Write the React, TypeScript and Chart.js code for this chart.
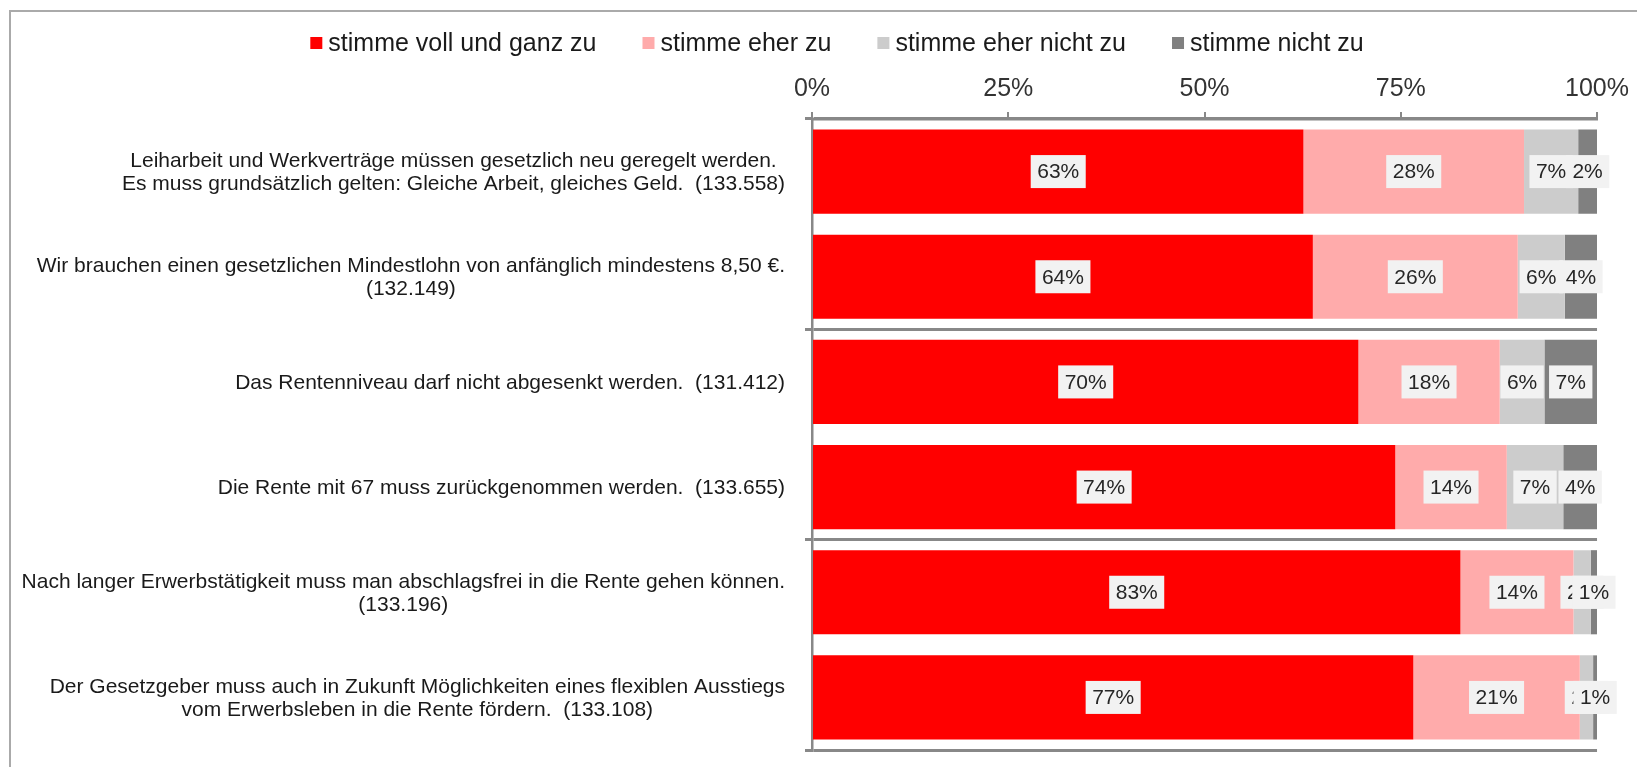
import React, { useEffect, useRef } from 'react';
import { Chart, registerables } from 'chart.js';

Chart.register(...registerables);

const FONT = '"Liberation Sans", Arial, sans-serif';

const categories: string[][] = [
  ['Leiharbeit und Werkverträge müssen gesetzlich neu geregelt werden.', 'Es muss grundsätzlich gelten: Gleiche Arbeit, gleiches Geld.  (133.558)'],
  ['Wir brauchen einen gesetzlichen Mindestlohn von anfänglich mindestens 8,50 €.', '(132.149)'],
  ['Das Rentenniveau darf nicht abgesenkt werden.  (131.412)'],
  ['Die Rente mit 67 muss zurückgenommen werden.  (133.655)'],
  ['Nach langer Erwerbstätigkeit muss man abschlagsfrei in die Rente gehen können.', '(133.196)'],
  ['Der Gesetzgeber muss auch in Zukunft Möglichkeiten eines flexiblen Ausstiegs', 'vom Erwerbsleben in die Rente fördern.  (133.108)'],
];

const seriesNames = ['stimme voll und ganz zu', 'stimme eher zu', 'stimme eher nicht zu', 'stimme nicht zu'];
const vollUndGanz = [62.6, 63.8, 69.6, 74.3, 82.6, 76.6];
const eherZu = [28.1, 26.1, 18.0, 14.2, 14.4, 21.2];
const eherNichtZu = [6.9, 6.0, 5.7, 7.2, 2.2, 1.7];
const nichtZu = [2.4, 4.1, 6.7, 4.3, 0.8, 0.5];
const seriesColors = ['#ff0000', '#ffabab', '#cccccc', '#808080'];
const xTickValues = [0, 25, 50, 75, 100];

const legendPlugin = {
  id: 'customLegend',
  afterDraw(chart: any) {
    const ctx = chart.ctx;
    ctx.save();
    ctx.font = `25px ${FONT}`;
    const box = 12;
    const gapText = 6;
    const gapItem = 46;
    const ds = chart.data.datasets;
    const widths = ds.map((d: any) => ctx.measureText(d.label).width);
    const total = widths.reduce((a: number, w: number) => a + box + gapText + w, 0) + gapItem * (ds.length - 1);
    let x = 837 - total / 2;
    const y = 43;
    ds.forEach((d: any, i: number) => {
      ctx.fillStyle = d.backgroundColor;
      ctx.fillRect(x, y - 6, box, box);
      x += box + gapText;
      ctx.fillStyle = '#1a1a1a';
      ctx.textAlign = 'left';
      ctx.textBaseline = 'middle';
      ctx.fillText(d.label, x, y + 1);
      x += widths[i] + gapItem;
    });
    ctx.restore();
  },
};

const categoryLabelPlugin = {
  id: 'categoryLabels',
  afterDraw(chart: any) {
    const ctx = chart.ctx;
    const yScale = chart.scales.y;
    ctx.save();
    ctx.font = `21px ${FONT}`;
    ctx.fillStyle = '#1a1a1a';
    ctx.textAlign = 'center';
    ctx.textBaseline = 'middle';
    const rightEdge = yScale.right - 27;
    const lineH = 23;
    categories.forEach((lines, j) => {
      const yc = yScale.getPixelForValue(j) + 1;
      const maxW = Math.max(...lines.map((l) => ctx.measureText(l).width));
      const cx = rightEdge - maxW / 2;
      lines.forEach((l, k) => {
        ctx.fillText(l, cx, yc + (k - (lines.length - 1) / 2) * lineH);
      });
    });
    ctx.restore();
  },
};

const dataLabelPlugin = {
  id: 'segmentLabels',
  afterDatasetsDraw(chart: any) {
    const ctx = chart.ctx;
    ctx.save();
    ctx.font = `21px ${FONT}`;
    ctx.textAlign = 'center';
    ctx.textBaseline = 'middle';
    chart.data.datasets.forEach((d: any, i: number) => {
      const meta = chart.getDatasetMeta(i);
      meta.data.forEach((bar: any, j: number) => {
        const text = Math.round(d.data[j]) + '%';
        const cx = (bar.x + bar.base) / 2;
        const cy = bar.y;
        const w = ctx.measureText(text).width + 13;
        const h = 33;
        ctx.fillStyle = '#f2f2f2';
        ctx.fillRect(cx - w / 2, cy - h / 2, w, h);
        ctx.fillStyle = '#262626';
        ctx.fillText(text, cx, cy + 1);
      });
    });
    ctx.restore();
  },
};

export default function App() {
  const ref = useRef<HTMLCanvasElement>(null);

  useEffect(() => {
    if (!ref.current) return;
    const seriesData = [vollUndGanz, eherZu, eherNichtZu, nichtZu];
    const chart = new Chart(ref.current, {
      type: 'bar',
      data: {
        labels: categories.map((c) => c.join(' ')),
        datasets: seriesNames.map((name, i) => ({
          label: name,
          data: seriesData[i],
          backgroundColor: seriesColors[i],
          borderWidth: 0,
          categoryPercentage: 0.8,
          barPercentage: 1,
        })),
      },
      options: {
        indexAxis: 'y',
        responsive: false,
        animation: false,
        devicePixelRatio: 1,
        layout: { padding: { top: 59, left: 0, right: 37, bottom: 17 } },
        plugins: {
          legend: { display: false },
          tooltip: { enabled: false },
        },
        scales: {
          x: {
            position: 'top',
            stacked: true,
            min: 0,
            max: 100,
            afterBuildTicks: (s: any) => {
              s.ticks = xTickValues.map((v) => ({ value: v }));
            },
            afterFit: (s: any) => {
              s.height = 60;
            },
            ticks: {
              callback: (v: any) => v + '%',
              font: { size: 25, family: FONT },
              color: '#333333',
              padding: 8,
              maxRotation: 0,
            },
            grid: {
              drawOnChartArea: false,
              drawTicks: true,
              tickLength: 7,
              color: '#888888',
              lineWidth: 2,
            },
            border: { color: '#888888', width: 2.5 },
          },
          y: {
            stacked: true,
            afterFit: (s: any) => {
              s.width = 812;
            },
            ticks: { display: false },
            grid: {
              offset: true,
              drawOnChartArea: true,
              drawTicks: true,
              tickLength: 7,
              lineWidth: 3,
              color: (c: any) => (c.index === undefined || c.index % 2 === 0 ? '#888888' : 'rgba(0,0,0,0)'),
            },
            border: { color: '#888888', width: 2.5 },
          },
        },
      },
      plugins: [legendPlugin, categoryLabelPlugin, dataLabelPlugin],
    } as any);
    return () => chart.destroy();
  }, []);

  return (
    <div style={{ position: 'fixed', left: 0, top: 0, width: 1637, height: 767, overflow: 'hidden', background: '#ffffff' }}>
      <div
        style={{
          position: 'absolute',
          left: 9,
          top: 10,
          width: 2000,
          height: 1000,
          borderLeft: '2px solid #aaaaaa',
          borderTop: '2px solid #aaaaaa',
        }}
      />
      <canvas ref={ref} width={1637} height={767} style={{ position: 'absolute', left: 0, top: 0, width: 1637, height: 767 }} />
    </div>
  );
}
